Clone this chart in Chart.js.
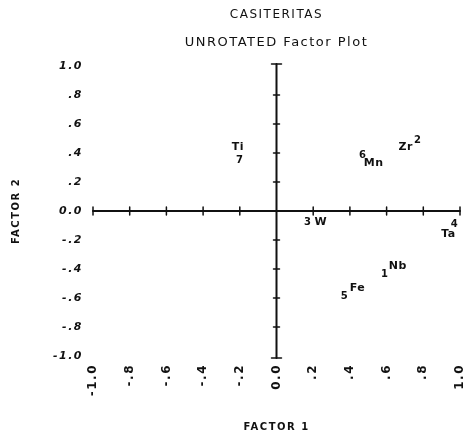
<!DOCTYPE html>
<html><head><meta charset="utf-8">
<script src="https://cdn.jsdelivr.net/npm/chart.js@4"></script>
<style>html,body{margin:0;padding:0;background:#fff}</style>
</head><body>
<canvas id="c" width="469" height="442"></canvas>
<script>
// ---- data ----
const elementNames = ['Nb', 'Zr', 'W', 'Ta', 'Fe', 'Mn', 'Ti'];
const markerNumbers = ['1', '2', '3', '4', '5', '6', '7'];
const factor1 = [0.59, 0.77, 0.17, 0.97, 0.37, 0.47, -0.20];
const factor2 = [-0.44, 0.49, -0.08, -0.09, -0.59, 0.38, 0.35];
const xTickLabels = ['-1.0', '-.8', '-.6', '-.4', '-.2', '0.0', '.2', '.4', '.6', '.8', '1.0'];
const yTickLabels = ['-1.0', '-.8', '-.6', '-.4', '-.2', '0.0', '.2', '.4', '.6', '.8', '1.0'];
const titleText = 'CASITERITAS';
const subtitleText = 'UNROTATED Factor Plot';
const xTitle = 'FACTOR 1';
const yTitle = 'FACTOR 2';

// ---- label placement (style) ----
const labelOffsets = {Nb: [13, -9], Zr: [-12, 7], W: [13, 0], Ta: [-6, 10], Fe: [13, -8], Mn: [11, 7], Ti: [-2, -13]};
const INK = '#111';

const spacing = {
  id: 'spacing',
  beforeLayout(chart) { chart.ctx.letterSpacing = '1.5px'; },
  beforeDraw(chart) { chart.ctx.letterSpacing = '1.5px'; }
};

const crossAxes = {
  id: 'crossAxes',
  afterDatasetsDraw(chart) {
    const {ctx, scales: {x, y}} = chart;
    const x0 = x.getPixelForValue(0), y0 = y.getPixelForValue(0);
    ctx.save();
    ctx.strokeStyle = INK; ctx.lineWidth = 2; ctx.lineCap = 'round';
    ctx.beginPath();
    ctx.moveTo(x.getPixelForValue(x.min), y0); ctx.lineTo(x.getPixelForValue(x.max), y0);
    ctx.moveTo(x0, y.getPixelForValue(y.max) - 2); ctx.lineTo(x0, y.getPixelForValue(y.min) + 2);
    ctx.stroke();
    ctx.lineWidth = 1.5;
    ctx.beginPath();
    x.ticks.forEach(t => {
      if (Math.abs(t.value) < 1e-9) return;
      const px = x.getPixelForValue(t.value);
      ctx.moveTo(px, y0 - 4); ctx.lineTo(px, y0 + 4);
    });
    y.ticks.forEach(t => {
      if (Math.abs(t.value) < 1e-9) return;
      const end = Math.abs(Math.abs(t.value) - 1) < 1e-9;
      const py = y.getPixelForValue(t.value) + (end ? (t.value > 0 ? -2 : 2) : 0);
      const e = end ? 5 : 3;
      ctx.moveTo(x0 - e, py); ctx.lineTo(x0 + e, py);
    });
    ctx.stroke();
    ctx.restore();
  }
};

const markerLabels = {
  id: 'markerLabels',
  afterDatasetsDraw(chart) {
    const meta = chart.getDatasetMeta(0);
    const ctx = chart.ctx;
    ctx.save();
    ctx.letterSpacing = '0.5px';
    ctx.fillStyle = INK; ctx.textAlign = 'center'; ctx.textBaseline = 'middle';
    meta.data.forEach((pt, i) => {
      ctx.font = 'bold 10px "DejaVu Sans"';
      ctx.fillText(markerNumbers[i], pt.x, pt.y);
      const off = labelOffsets[elementNames[i]];
      ctx.font = 'bold 11px "DejaVu Sans"';
      ctx.fillText(elementNames[i], pt.x + off[0], pt.y + off[1]);
    });
    ctx.restore();
  }
};

new Chart(document.getElementById('c'), {
  type: 'scatter',
  data: {datasets: [{data: factor1.map((v, i) => ({x: v, y: factor2[i]})), pointRadius: 0, pointHoverRadius: 0}]},
  options: {
    responsive: false, animation: false, devicePixelRatio: 1,
    layout: {padding: {left: 0, right: 9, top: 0, bottom: 0}},
    plugins: {
      legend: {display: false}, tooltip: {enabled: false},
      title: {display: true, text: titleText, fullSize: false, color: INK,
        font: {family: 'DejaVu Sans', size: 12, weight: 'normal'}, padding: {top: 8, bottom: 12}},
      subtitle: {display: true, text: subtitleText, fullSize: false, color: INK,
        font: {family: 'DejaVu Sans', size: 13, weight: 'normal'}, padding: {top: 0, bottom: 16}}
    },
    scales: {
      x: {
        type: 'linear', min: -1, max: 1,
        grid: {display: false, drawTicks: false}, border: {display: false},
        ticks: {stepSize: 0.2, autoSkip: false, minRotation: 90, maxRotation: 90, padding: 8, color: INK,
          font: {family: 'DejaVu Sans', size: 12, weight: 'bold'}, callback: (v, i) => xTickLabels[i]},
        title: {display: true, text: xTitle, color: INK, font: {family: 'DejaVu Sans', size: 10, weight: 'bold'}, padding: {top: 0, bottom: 9}},
        afterFit(s) { s.height = 86; s.paddingLeft = 0; s.paddingRight = 0; }
      },
      y: {
        type: 'linear', min: -1, max: 1,
        grid: {display: false, drawTicks: false}, border: {display: false},
        ticks: {stepSize: 0.2, autoSkip: false, padding: 10, color: INK,
          font: {family: 'DejaVu Sans', size: 11, weight: 'bold', style: 'italic'}, callback: (v, i) => yTickLabels[i]},
        title: {display: true, text: yTitle, color: INK, font: {family: 'DejaVu Sans', size: 10, weight: 'bold'}, padding: {top: 10, bottom: 0}},
        afterFit(s) { s.width = 93; s.paddingTop = 0; s.paddingBottom = 0; }
      }
    }
  },
  plugins: [spacing, crossAxes, markerLabels]
});
</script>
</body></html>
